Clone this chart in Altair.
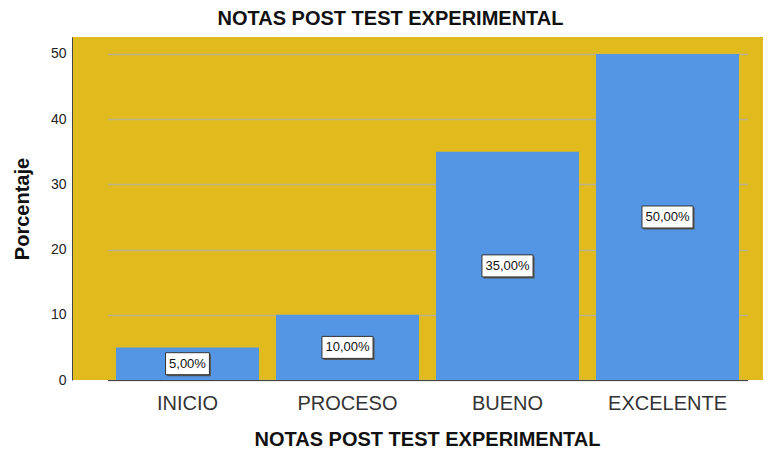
import altair as alt
import pandas as pd

categories = ["INICIO", "PROCESO", "BUENO", "EXCELENTE"]
values = [5, 10, 35, 50]

labels = [f"{v:.2f}".replace(".", ",") + "%" for v in values]

# approximate text widths (13px Arial) to size label boxes
FS = 13
cw = {",": 0.278, "%": 0.889, ".": 0.278}
def tw(s):
    return sum(cw.get(c, 0.556) for c in s) * FS

def box(s, pad=7, h=22):
    hw = (tw(s) + pad) / 2 / 50
    hh = h / 2 / 50
    return f"M{-hw:.4f},{-hh:.4f}L{hw:.4f},{-hh:.4f}L{hw:.4f},{hh:.4f}L{-hw:.4f},{hh:.4f}Z"

df = pd.DataFrame({"cat": categories, "val": values, "label": labels})
df["box"] = [box(s) for s in labels]

x = alt.X("cat:N", sort=categories,
          scale=alt.Scale(range=[35.5, 675.5], paddingInner=0.10625, paddingOuter=0.053),
          axis=alt.Axis(title="NOTAS POST TEST EXPERIMENTAL", labelAngle=0, ticks=False,
                        labelFontSize=20, labelColor="#333333", labelPadding=13,
                        titleFontSize=20, titleFontWeight="bold", titlePadding=16,
                        titleX=355, domainColor="#444444", titleColor="#111111"))
y = alt.Y("val:Q", scale=alt.Scale(domain=[0, 52.6], nice=False),
          axis=alt.Axis(title="Porcentaje", values=[0, 10, 20, 30, 40, 50], ticks=False,
                        labelFontSize=14, labelColor="#222222", labelPadding=6,
                        titleFontSize=20, titleFontWeight="bold", titlePadding=18,
                        gridColor="#BDB28C", gridWidth=1.5, domainColor="#444444",
                        titleColor="#111111"))

base = alt.Chart(df)
bars = base.mark_bar(color="#5496E4").encode(x=x, y=y)

yh = alt.Y("half:Q", scale=alt.Scale(domain=[0, 52.6], nice=False))
shadow = base.transform_calculate(half="datum.val/2").mark_point(
    filled=True, fill="#555555", stroke=None, xOffset=1.5, yOffset=1.5, opacity=1
).encode(x=alt.X("cat:N", sort=categories), y=yh,
         shape=alt.Shape("box:N", scale=None), size=alt.value(10000))
boxes = base.transform_calculate(half="datum.val/2").mark_point(
    filled=True, fill="white", stroke="#333333", strokeWidth=1, opacity=1
).encode(x=alt.X("cat:N", sort=categories), y=yh,
         shape=alt.Shape("box:N", scale=None), size=alt.value(10000))
text = base.transform_calculate(half="datum.val/2").mark_text(
    fontSize=FS, color="#111111", font="Liberation Sans"
).encode(x=alt.X("cat:N", sort=categories), y=yh, text="label:N")

chart = alt.layer(bars, shadow, boxes, text).properties(
    width=691, height=343,
    title=alt.TitleParams("NOTAS POST TEST EXPERIMENTAL", fontSize=20, fontWeight="bold",
                          dx=-27, offset=8, color="#111111"),
    autosize=alt.AutoSizeParams(type="none"),
    padding={"left": 64, "top": 29, "right": 0, "bottom": 70},
).configure(font="Liberation Sans").configure_view(fill="#E1BB1E", stroke=None)

chart.save("out.html", embed_options={"renderer": "svg", "actions": False})
